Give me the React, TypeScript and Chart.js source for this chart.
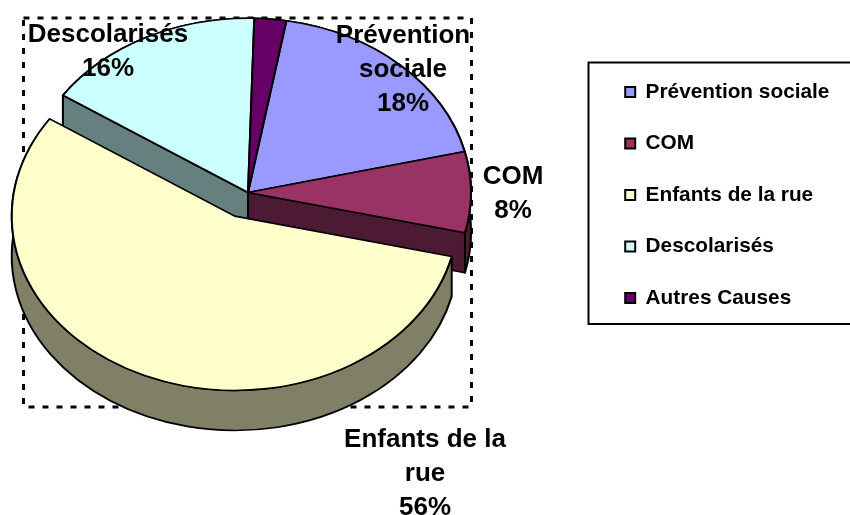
import React, { useEffect, useRef } from "react";
import { Chart, registerables } from "chart.js";

Chart.register(...registerables);

const categories = ["Prévention sociale", "COM", "Enfants de la rue", "Descolarisés", "Autres Causes"];
const sliceValues = [18.47, 7.5, 55.7, 16.03, 2.3];
const sliceExplode = [0, 0, 33, 0, 0];
const topColors = ["#9999FF", "#993366", "#FFFFCC", "#CCFFFF", "#660066"];
const wallColors = ["#4D4D80", "#4D1A33", "#808066", "#668080", "#330033"];
const labelLines = [
  { lines: ["Prévention", "sociale", "18%"], cx: 403, y: 36 },
  { lines: ["COM", "8%"], cx: 513, y: 177 },
  { lines: ["Enfants de la", "rue", "56%"], cx: 425, y: 440 },
  { lines: ["Descolarisés", "16%"], cx: 108, y: 35 },
];

const FONT = '"Liberation Sans", Arial, sans-serif';
const SQUASH = 0.7815;
const THICK = 40 / SQUASH;
const LINE_PITCH = 33.7;
const AREA = { left: 24, top: 18, right: 472, bottom: 407 };
const CY_TARGET = 192.5;
const LEGEND_POS = { left: 594.5, top: 51 };
const LEGEND_FRAME = { x: 588.5, y: 62.5, w: 270, h: 261.5 };

const pie3d = {
  id: "pie3d",
  afterLayout(chart: any) {
    Object.assign(chart.chartArea, AREA, {
      width: AREA.right - AREA.left,
      height: AREA.bottom - AREA.top,
    });
    const lg = chart.legend;
    const w = lg.width;
    const h = lg.height;
    lg.left = LEGEND_POS.left;
    lg.right = LEGEND_POS.left + w;
    lg.top = LEGEND_POS.top;
    lg.bottom = LEGEND_POS.top + h;
  },
  afterDatasetsUpdate(chart: any) {
    chart.getDatasetMeta(0).data.forEach((a: any, i: number) => {
      const mid = (a.startAngle + a.endAngle) / 2;
      a.x += Math.cos(mid) * sliceExplode[i];
      a.y += Math.sin(mid) * sliceExplode[i];
    });
  },
  beforeDraw(chart: any) {
    const ctx = chart.ctx;
    ctx.save();
    ctx.strokeStyle = "#000";
    ctx.lineWidth = 3;
    ctx.setLineDash([6, 8]);
    ctx.strokeRect(AREA.left - 0.5, AREA.top, AREA.right - AREA.left, AREA.bottom - AREA.top);
    ctx.setLineDash([]);
    ctx.lineWidth = 2;
    ctx.strokeStyle = "#000";
    ctx.fillStyle = "#fff";
    ctx.fillRect(LEGEND_FRAME.x, LEGEND_FRAME.y, LEGEND_FRAME.w, LEGEND_FRAME.h);
    ctx.strokeRect(LEGEND_FRAME.x, LEGEND_FRAME.y, LEGEND_FRAME.w, LEGEND_FRAME.h);
    ctx.restore();
  },
  beforeDatasetsDraw(chart: any) {
    const ctx = chart.ctx;
    const cyArea = (AREA.top + AREA.bottom) / 2;
    ctx.save();
    ctx.translate(0, CY_TARGET);
    ctx.scale(1, SQUASH);
    ctx.translate(0, -cyArea);

    const arcs = chart.getDatasetMeta(0).data;
    const order = [4, 3, 0, 1, 2];
    ctx.lineWidth = 2;
    ctx.strokeStyle = "#000";
    ctx.lineJoin = "round";
    for (const i of order) {
      const a = arcs[i];
      const { x: cx, y: cy, startAngle, endAngle, outerRadius } = a;
      ctx.fillStyle = wallColors[i];
      ctx.beginPath();
      ctx.arc(cx, cy, outerRadius, startAngle, endAngle);
      ctx.arc(cx, cy + THICK, outerRadius, endAngle, startAngle, true);
      ctx.closePath();
      ctx.fill();
      ctx.stroke();
      // a cut face only shows when it looks towards the viewer
      const faces = [
        { ang: startAngle, seen: -Math.cos(startAngle) > 0 },
        { ang: endAngle, seen: Math.cos(endAngle) > 0 },
      ];
      for (const { ang, seen } of faces) {
        if (!seen) continue;
        ctx.beginPath();
        ctx.moveTo(cx, cy);
        ctx.lineTo(cx + Math.cos(ang) * outerRadius, cy + Math.sin(ang) * outerRadius);
        ctx.lineTo(cx + Math.cos(ang) * outerRadius, cy + Math.sin(ang) * outerRadius + THICK);
        ctx.lineTo(cx, cy + THICK);
        ctx.closePath();
        ctx.fill();
        ctx.stroke();
      }
    }
  },
  afterDatasetsDraw(chart: any) {
    chart.ctx.restore();
  },
  afterDraw(chart: any) {
    const ctx = chart.ctx;
    ctx.save();
    ctx.fillStyle = "#000";
    ctx.font = `bold 26px ${FONT}`;
    ctx.textAlign = "center";
    ctx.textBaseline = "middle";
    for (const l of labelLines) {
      l.lines.forEach((t, k) => ctx.fillText(t, l.cx, l.y + k * LINE_PITCH));
    }
    ctx.restore();
  },
};

export default function App() {
  const ref = useRef<HTMLCanvasElement>(null);
  useEffect(() => {
    const chart = new Chart(ref.current as HTMLCanvasElement, {
      type: "pie",
      data: {
        labels: categories,
        datasets: [
          {
            data: sliceValues,
            backgroundColor: topColors,
            borderColor: "#000",
            borderWidth: 2,
            borderAlign: "center",
            hoverOffset: 0,
            clip: false,
          } as any,
        ],
      },
      options: {
        responsive: false,
        animation: false,
        rotation: 9.9,
        radius: 223,
        events: [],
        layout: { padding: 0 },
        plugins: {
          tooltip: { enabled: false },
          title: { display: false },
          legend: {
            display: true,
            position: "right",
            align: "start",
            labels: {
              boxWidth: 10,
              boxHeight: 10,
              padding: 30.7,
              color: "#000",
              font: { family: FONT, weight: "bold", size: 20.8 },
            },
          },
        },
      },
      plugins: [pie3d as any],
    });
    return () => chart.destroy();
  }, []);
  return (
    <div style={{ position: "fixed", left: 0, top: 0, width: 850, height: 515, background: "#fff" }}>
      <canvas ref={ref} width={850} height={515} style={{ display: "block" }} />
    </div>
  );
}
